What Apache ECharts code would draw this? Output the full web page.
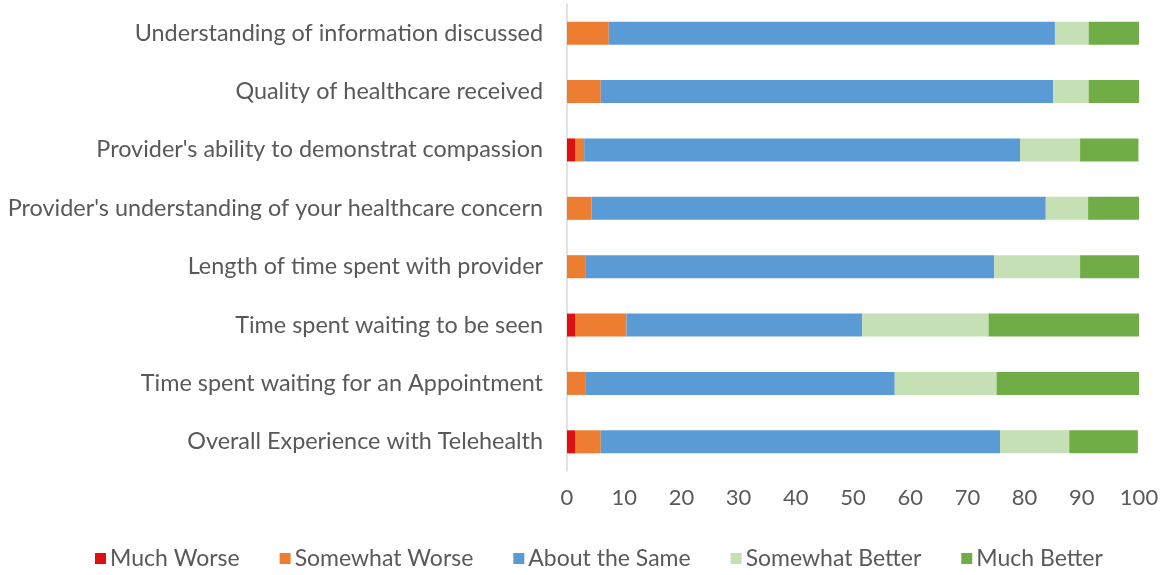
<!DOCTYPE html>
<html>
<head>
<meta charset="utf-8">
<script src="https://cdn.jsdelivr.net/npm/echarts@6/dist/echarts.min.js"></script>
<style>
  html, body { margin: 0; padding: 0; background: #ffffff; }
  #chart { width: 1167px; height: 575px; }
</style>
</head>
<body>
<div id="chart"></div>
<script>
// Survey items, top to bottom
const categories = [
  "Understanding of information discussed",
  "Quality of healthcare received",
  "Provider's ability to demonstrat compassion",
  "Provider's understanding of your healthcare concern",
  "Length of time spent with provider",
  "Time spent waiting to be seen",
  "Time spent waiting for an Appointment",
  "Overall Experience with Telehealth"
];

// Percent of respondents per answer
const muchWorse      = [0,   0,   1.4, 0,   0,    1.4,  0,    1.4];
const somewhatWorse  = [7.3, 5.9, 1.6, 4.3, 3.3,  9.0,  3.3,  4.5];
const aboutTheSame   = [78.0,79.1,76.2,79.4,71.4, 41.2, 54.0, 69.8];
const somewhatBetter = [5.9, 6.2, 10.5,7.4, 15.0, 22.1, 17.8, 12.1];
const muchBetter     = [8.8, 8.8, 10.2,8.9, 10.3, 26.3, 24.9, 12.0];

const xTicks = [0, 10, 20, 30, 40, 50, 60, 70, 80, 90, 100];

const seriesDefs = [
  { name: "Much Worse",      data: muchWorse,      color: "#e01010" },
  { name: "Somewhat Worse",  data: somewhatWorse,  color: "#ed7d31" },
  { name: "About the Same",  data: aboutTheSame,   color: "#5b9bd5" },
  { name: "Somewhat Better", data: somewhatBetter, color: "#c5e0b4" },
  { name: "Much Better",     data: muchBetter,     color: "#70ad47" }
];

const font = "Lato, 'Open Sans', sans-serif";
const textColor = "#595959";

const chart = echarts.init(document.getElementById("chart"), null, { renderer: "canvas" });
chart.setOption({
  animation: false,
  backgroundColor: "#ffffff",
  textStyle: { fontFamily: font },
  grid: { left: 567, right: 28, top: 4, bottom: 104, containLabel: false },
  legend: {
    top: 542,
    left: 90,
    itemWidth: 11,
    itemHeight: 11,
    itemGap: 40,
    icon: "rect",
    textStyle: { fontFamily: font, fontSize: 23, color: textColor, padding: [0, 0, 0, -1] },
    data: seriesDefs.map(s => s.name)
  },
  xAxis: {
    type: "value",
    min: xTicks[0],
    max: xTicks[xTicks.length - 1],
    interval: xTicks[1] - xTicks[0],
    axisLine: { show: false },
    axisTick: { show: false },
    splitLine: { show: false },
    axisLabel: { fontFamily: font, fontSize: 22, color: textColor, margin: 16 }
  },
  yAxis: {
    type: "category",
    data: categories,
    inverse: true,
    axisLine: { show: true, lineStyle: { color: "#d9d9d9", width: 1.5 } },
    axisTick: { show: false },
    axisLabel: { fontFamily: font, fontSize: 23.4, color: textColor, margin: 24 }
  },
  series: seriesDefs.map(s => ({
    name: s.name,
    type: "bar",
    stack: "total",
    data: s.data,
    barWidth: 23,
    itemStyle: { color: s.color },
    emphasis: { disabled: true }
  }))
});
</script>
</body>
</html>
